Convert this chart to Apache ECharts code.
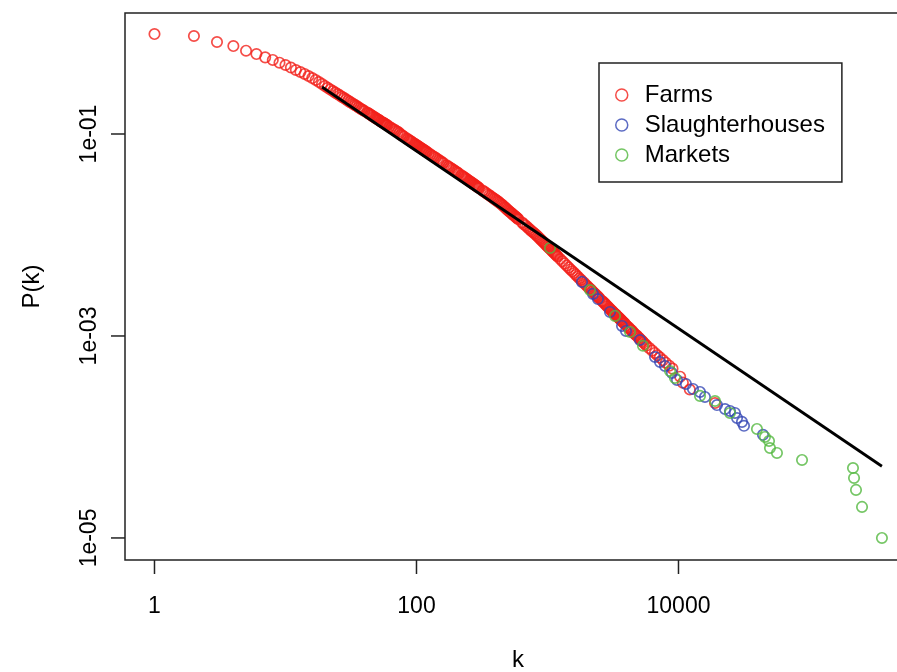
<!DOCTYPE html>
<html><head><meta charset="utf-8">
<script src="https://cdn.jsdelivr.net/npm/echarts@6/dist/echarts.min.js"></script>
<style>html,body{margin:0;padding:0;background:#fff;overflow:hidden;width:897px;height:672px}#c{width:930px;height:672px}</style>
</head><body><div id="c"></div>
<script>
// ---- data ----
const farmK = [1,2,3,4,5,6,7,8,9,10,11,12,13,14,15,16,17,18,19,20,
  21,22,23,24,25,26,27,28,29,30,31,32,33,34,35,36,37,38,39,40,
  42,43,44,45,46,47,48,49,50,51,52,53,54,55,56,57,58,59,60,62,64,66,68,70,72,74,76,78,80,
  84,86,88,90,92,94,96,98,100,102,104,106,108,110,112,114,116,118,120,124,128,132,136,140,144,148,152,156,160,
  170,175,180,185,190,195,200,205,210,220,225,230,235,240,245,250,255,260,265,270,275,280,285,290,295,300,
  320,330,340,350,360,370,380,390,400,410,420,430,440,450,460,470,480,490,500,510,520,530,540,550,560,570,580,590,600,
  640,660,680,700,720,740,760,780,800,820,840,860,880,900,920,940,960,980,1000,1020,1040,1060,1080,1100,1120,1140,1160,1180,1200,
  1250,1300,1350,1400,1450,1500,1550,1600,1650,1700,1750,1800,1850,1900,1950,2000,2050,2100,2150,2200,2250,2300,2350,2400,2450,2500,
  2600,2650,2700,2750,2800,2850,2900,2950,3000,3050,3100,3150,3200,3250,3300,3350,3400,3450,3500,3550,3600,3650,3700,3750,3800,3850,3900,4000,
  4100,4200,4300,4400,4500,4600,4700,4800,4900,5000,5100,5200,5300,5400,5550,5700,6000,6300,6600,6900,7200,7600,8000,8500,9000,
  10300,10800,12200,19000];
const farmP = [0.977,0.934,0.815,0.743,0.668,0.619,0.574,0.541,0.508,0.482,0.455,0.430,0.411,0.393,0.375,0.358,0.343,0.327,0.313,0.299,
  0.287,0.276,0.266,0.257,0.249,0.241,0.233,0.227,0.220,0.214,0.208,0.203,0.198,0.193,0.189,0.184,0.180,0.176,0.173,0.169,
  0.163,0.160,0.157,0.154,0.151,0.148,0.146,0.143,0.141,0.139,0.137,0.134,0.132,0.130,0.129,0.127,0.125,0.123,0.122,0.118,0.115,0.112,0.110,0.107,0.105,0.102,0.0986,0.0964,0.0943,
  0.0904,0.0886,0.0868,0.0851,0.0835,0.0820,0.0805,0.0791,0.0777,0.0763,0.0751,0.0738,0.0727,0.0715,0.0704,0.0693,0.0683,0.0673,0.0663,0.0644,0.0627,0.0610,0.0595,0.0580,0.0566,0.0552,0.0540,0.0528,0.0516,
  0.0490,0.0477,0.0466,0.0455,0.0444,0.0435,0.0425,0.0416,0.0407,0.0390,0.0382,0.0374,0.0367,0.0360,0.0353,0.0346,0.0340,0.0334,0.0328,0.0323,0.0317,0.0312,0.0307,0.0302,0.0297,0.0292,
  0.0275,0.0268,0.0260,0.0253,0.0247,0.0241,0.0235,0.0229,0.0224,0.0219,0.0214,0.0209,0.0204,0.0199,0.0194,0.0189,0.0185,0.0180,0.0176,0.0172,0.0168,0.0165,0.0161,0.0158,0.0155,0.0152,0.0149,0.0146,0.0143,
  0.0133,0.0128,0.0124,0.0120,0.0116,0.0112,0.0109,0.0106,0.0103,0.00998,0.00970,0.00940,0.00913,0.00886,0.00861,0.00838,0.00815,0.00794,0.00773,0.00753,0.00735,0.00717,0.00699,0.00683,0.00667,0.00652,0.00637,0.00623,0.00610,
  0.00578,0.00550,0.00523,0.00499,0.00477,0.00456,0.00437,0.00420,0.00403,0.00388,0.00373,0.00360,0.00347,0.00336,0.00324,0.00314,0.00304,0.00295,0.00286,0.00277,0.00269,0.00262,0.00255,0.00248,0.00241,0.00235,
  0.00223,0.00218,0.00213,0.00208,0.00203,0.00198,0.00194,0.00189,0.00185,0.00181,0.00178,0.00174,0.00170,0.00167,0.00164,0.00161,0.00157,0.00154,0.00152,0.00149,0.00146,0.00144,0.00141,0.00139,0.00136,0.00134,0.00132,0.00127,
  0.00123,0.00120,0.00116,0.00113,0.00109,0.00106,0.00103,0.00101,0.000979,0.000954,0.000930,0.000906,0.000885,0.000863,0.000833,0.000804,0.000758,0.000716,0.000679,0.000645,0.000614,0.000577,0.000544,0.000508,0.000475,
  0.000395,0.000345,0.000295,0.000217];
const slaughterK = [1833,2225,2427,3000,3707,3974,5080,6620,7228,7890,8913,9744,11400,12900,14590,15920,19670,22650,24720,26980,27970,30520,31620,44160];
const slaughterP = [0.00343,0.00261,0.00232,0.00173,0.001257,0.001122,0.000912,0.000619,0.000553,0.000505,0.000430,0.000367,0.000335,0.000299,0.000279,0.000249,0.000207,0.000189,0.000181,0.000173,0.000154,0.000141,0.000129,0.000105];
const marketK = [1045,2110,3275,4265,5356,8610,9400,14590,19000,24720,39720,45710,49090,49930,56450,87700,214800,218800,226500,251800,357300];
const marketP = [0.00743,0.00285,0.00158,0.001096,0.00080,0.000450,0.000384,0.000255,0.000227,0.000173,0.000120,0.000100,0.0000912,0.0000778,0.0000695,0.0000592,0.0000493,0.0000393,0.0000299,0.0000203,0.0000100];
const fitK = [19, 357000];
const fitP = [0.292, 5.13e-5];
const xTicks = [1, 100, 10000];
const xTickLabels = ['1', '100', '10000'];
const yTicks = [1e-1, 1e-3, 1e-5];
const yTickLabels = ['1e-01', '1e-03', '1e-05'];
const seriesNames = ['Farms', 'Slaughterhouses', 'Markets'];

// ---- styling ----
const RED = '#F2201A', BLUE = '#3346B4', GREEN = '#52B83F';
const FONT = '"Liberation Sans", Arial, Helvetica, sans-serif';
const X_MIN = 0.5955, X_MAX = 595500, Y_MIN = 6.05e-6, Y_MAX = 1.578;

const zip = (a, b) => a.map((v, i) => [v, b[i]]);
function labeler(ticks, labels) {
  return function (v) {
    for (let i = 0; i < ticks.length; i++) {
      if (Math.abs(Math.log10(v) - Math.log10(ticks[i])) < 1e-6) return labels[i];
    }
    return '';
  };
}
function ring(name, k, p, col) {
  return {
    type: 'scatter', name: name, data: zip(k, p),
    symbol: 'circle', symbolSize: 10.4,
    itemStyle: { color: 'rgba(0,0,0,0)', borderColor: col, borderWidth: 1.7 },
    silent: true, animation: false, z: 2
  };
}

const chart = echarts.init(document.getElementById('c'), null, { renderer: 'canvas' });
chart.setOption({
  backgroundColor: '#fff',
  animation: false,
  textStyle: { fontFamily: FONT },
  grid: { left: 125, top: 13, width: 786, height: 547, containLabel: false, outerBoundsMode: 'none',
          show: true, borderColor: '#222', borderWidth: 1.5, backgroundColor: 'rgba(0,0,0,0)' },
  xAxis: {
    type: 'log', logBase: 10, min: X_MIN, max: X_MAX,
    axisLine: { show: false }, axisTick: { show: false }, splitLine: { show: false },
    axisLabel: { formatter: labeler(xTicks, xTickLabels), fontSize: 23, color: '#000', margin: 35, fontFamily: FONT },
    name: 'k', nameLocation: 'middle', nameGap: 88,
    nameTextStyle: { fontSize: 24, color: '#000', fontFamily: FONT }
  },
  yAxis: {
    type: 'log', logBase: 10, min: Y_MIN, max: Y_MAX,
    axisLine: { show: false }, axisTick: { show: false }, splitLine: { show: false },
    axisLabel: { formatter: labeler(yTicks, yTickLabels), fontSize: 23, color: '#000', margin: 24, rotate: 90, fontFamily: FONT },
    name: 'P(k)', nameLocation: 'middle', nameGap: 81,
    nameTextStyle: { fontSize: 24, color: '#000', fontFamily: FONT }
  },
  legend: {
    left: 599, top: 63, orient: 'vertical',
    padding: [20, 17, 15, 16], itemGap: 6,
    itemWidth: 12, itemHeight: 12,
    borderColor: '#222', borderWidth: 1.5, backgroundColor: '#fff',
    textStyle: { fontSize: 24, lineHeight: 24, color: '#000', fontFamily: FONT, padding: [0, 0, 0, 12] },
    selectedMode: false,
    data: [
      { name: seriesNames[0], icon: 'circle', itemStyle: { color: 'rgba(0,0,0,0)', borderColor: RED, borderWidth: 1.5 } },
      { name: seriesNames[1], icon: 'circle', itemStyle: { color: 'rgba(0,0,0,0)', borderColor: BLUE, borderWidth: 1.5 } },
      { name: seriesNames[2], icon: 'circle', itemStyle: { color: 'rgba(0,0,0,0)', borderColor: GREEN, borderWidth: 1.5 } }
    ]
  },
  series: [
    ring(seriesNames[0], farmK, farmP, RED),
    ring(seriesNames[1], slaughterK, slaughterP, BLUE),
    ring(seriesNames[2], marketK, marketP, GREEN),
    {
      type: 'line', name: 'fit', data: zip(fitK, fitP), symbol: 'none',
      lineStyle: { color: '#000', width: 2.8 }, silent: true, z: 5
    },
    {
      type: 'custom', name: 'xticks', data: xTicks.map(v => [v, Y_MIN]), clip: false, silent: true, z: 6,
      renderItem: function (params, api) {
        const p = api.coord([api.value(0), Y_MIN]);
        return { type: 'line', shape: { x1: p[0], y1: p[1], x2: p[0], y2: p[1] + 14 }, style: { stroke: '#222', lineWidth: 1.5 } };
      }
    },
    {
      type: 'custom', name: 'yticks', data: yTicks.map(v => [X_MIN, v]), clip: false, silent: true, z: 6,
      renderItem: function (params, api) {
        const p = api.coord([X_MIN, api.value(1)]);
        return { type: 'line', shape: { x1: p[0] - 14, y1: p[1], x2: p[0], y2: p[1] }, style: { stroke: '#222', lineWidth: 1.5 } };
      }
    }
  ]
});
</script></body></html>
